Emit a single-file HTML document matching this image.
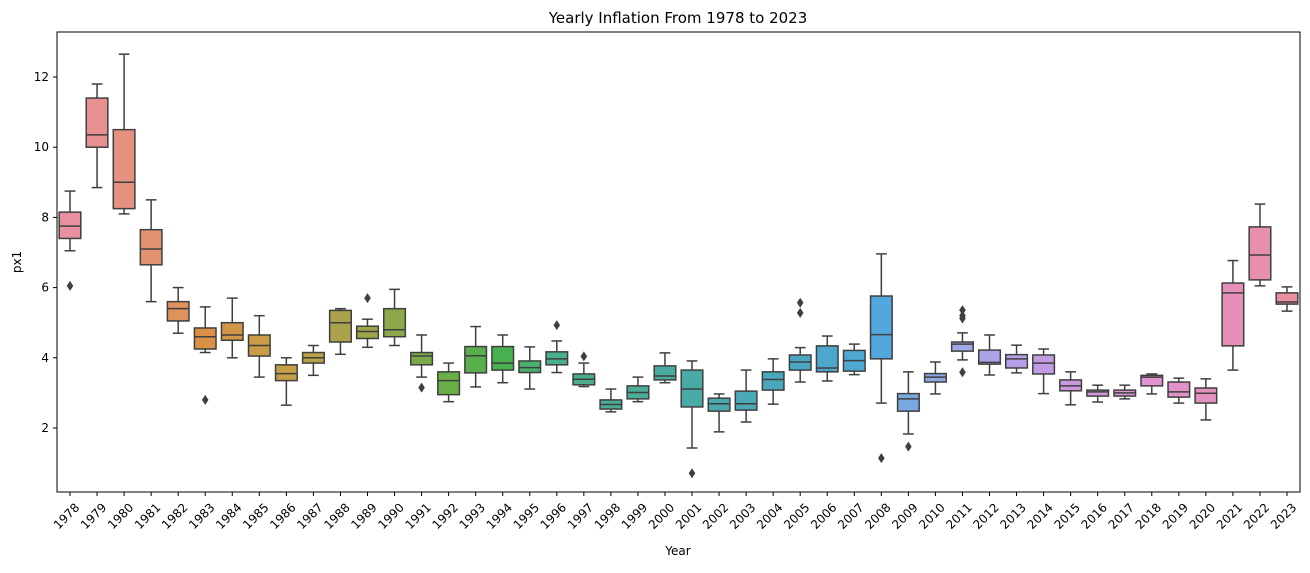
<!DOCTYPE html>
<html><head><meta charset="utf-8"><style>
body{margin:0;background:#fff;font-family:"Liberation Sans","DejaVu Sans",sans-serif}
svg text{font-family:"DejaVu Sans","Liberation Sans",sans-serif;fill:#000}
</style></head><body>
<svg id="chart" width="1310" height="568" viewBox="0 0 1310 568" xmlns="http://www.w3.org/2000/svg">
<rect width="1310" height="568" fill="#fff"/>
<text x="678" y="23" font-size="15" text-anchor="middle">Yearly Inflation From 1978 to 2023</text>
<g id="marks"></g>
<rect x="57" y="32" width="1243" height="460" fill="none" stroke="#000" stroke-width="1"/>
<g id="axes"></g>
<text x="678" y="555" font-size="12" text-anchor="middle">Year</text>
<text transform="translate(21,262) rotate(-90)" font-size="12" text-anchor="middle">px1</text>
</svg>
<script>
const years=[];for(let y=1978;y<=2023;y++)years.push(y);
const whiskerLow=[7.05,8.85,8.1,5.6,4.7,4.15,4.0,3.45,2.65,3.5,4.1,4.3,4.35,3.45,2.75,3.17,3.29,3.11,3.58,3.18,2.46,2.75,3.29,1.43,1.89,2.17,2.68,3.31,3.34,3.52,2.71,1.83,2.97,3.94,3.51,3.57,2.98,2.66,2.74,2.83,2.97,2.71,2.23,3.65,6.05,5.33];
const q1=[7.4,10.0,8.25,6.65,5.05,4.25,4.5,4.05,3.35,3.85,4.45,4.55,4.6,3.8,2.95,3.57,3.65,3.58,3.8,3.23,2.54,2.83,3.37,2.6,2.48,2.51,3.08,3.65,3.6,3.62,3.97,2.48,3.31,4.19,3.82,3.71,3.54,3.06,2.91,2.91,3.2,2.88,2.71,4.34,6.22,5.53];
const medians=[7.75,10.35,9.0,7.1,5.4,4.6,4.65,4.35,3.55,4.0,5.0,4.75,4.8,4.05,3.35,4.06,3.85,3.72,3.97,3.39,2.67,3.01,3.48,3.11,2.69,2.69,3.38,3.88,3.71,3.92,4.66,2.83,3.45,4.39,3.87,3.97,3.85,3.2,3.03,3.0,3.45,3.03,2.99,5.85,6.93,5.59];
const q3=[8.15,11.4,10.5,7.65,5.6,4.85,5.0,4.65,3.8,4.15,5.35,4.9,5.4,4.15,3.6,4.32,4.32,3.91,4.17,3.54,2.8,3.2,3.77,3.65,2.85,3.05,3.6,4.08,4.34,4.21,5.76,2.98,3.55,4.45,4.22,4.09,4.08,3.37,3.08,3.08,3.5,3.31,3.14,6.13,7.73,5.85];
const whiskerHigh=[8.75,11.8,12.65,8.5,6.0,5.45,5.7,5.2,4.0,4.35,5.4,5.1,5.95,4.65,3.85,4.89,4.65,4.31,4.48,3.85,3.11,3.45,4.14,3.91,2.97,3.65,3.97,4.29,4.62,4.39,6.96,3.6,3.88,4.71,4.65,4.36,4.25,3.6,3.22,3.22,3.54,3.42,3.4,6.77,8.38,6.02];
const outliers=[[6.05],[],[],[],[],[2.8],[],[],[],[],[],[5.7],[],[3.15],[],[],[],[],[4.93],[4.04],[],[],[],[0.71],[],[],[],[5.57,5.28],[],[],[1.14],[1.47],[],[5.36,5.2,5.12,3.59],[],[],[],[],[],[],[],[],[],[],[],[]];
const yTicks=[2,4,6,8,10,12];

const X0=70,DX=(1287-70)/45;
function xs(i){return X0+i*DX;}
function ys(v){return 428-(v-2)*35.1;}
const keys=[[0,[232,144,159]],[3,[227,146,111]],[5,[218,145,70]],[8,[197,160,71]],[11,[158,165,74]],[14,[106,174,71]],[16,[71,176,79]],[18,[74,175,138]],[22,[74,171,158]],[27,[74,167,196]],[30,[82,168,220]],[31,[122,168,224]],[33,[160,168,232]],[35,[184,160,232]],[37,[204,152,224]],[40,[224,148,208]],[43,[230,143,184]],[45,[232,144,159]]];
function col(i){for(let k=0;k<keys.length-1;k++){const[a,ca]=keys[k],[b,cb]=keys[k+1];if(i>=a&&i<=b){const t=(i-a)/(b-a||1);return 'rgb('+ca.map((c,j)=>Math.round(c+(cb[j]-c)*t)).join(',')+')';}}return 'rgb(232,144,159)';}
const NS='http://www.w3.org/2000/svg';
function mk(tag,attrs,parent){const e=document.createElementNS(NS,tag);for(const k in attrs)e.setAttribute(k,attrs[k]);parent.appendChild(e);return e;}
const marks=document.getElementById('marks'),axes=document.getElementById('axes');
const LC='#3f3f3f',BW=21.6;
years.forEach((yr,i)=>{
  const g=mk('g',{},marks);
  
  
  const cx=xs(i);
  const w1=mk('line',{x1:cx,x2:cx,y1:ys(q1[i]),y2:ys(whiskerLow[i]),stroke:LC,'stroke-width':1.5},g);
  
  
  const w2=mk('line',{x1:cx,x2:cx,y1:ys(q3[i]),y2:ys(whiskerHigh[i]),stroke:LC,'stroke-width':1.5},g);
  
  
  [whiskerLow[i],whiskerHigh[i]].forEach(v=>{
    const c=mk('line',{x1:cx-BW/4,x2:cx+BW/4,y1:ys(v),y2:ys(v),stroke:LC,'stroke-width':1.5},g);
    
    
  });
  const r=mk('rect',{x:cx-BW/2,y:ys(q3[i]),width:BW,height:Math.max(0.5,ys(q1[i])-ys(q3[i])),fill:col(i),stroke:LC,'stroke-width':1.5},g);
  
  
  const m=mk('line',{x1:cx-BW/2,x2:cx+BW/2,y1:ys(medians[i]),y2:ys(medians[i]),stroke:LC,'stroke-width':1.5},g);
  
  
  outliers[i].forEach(v=>{
    const y=ys(v);
    const p=mk('polygon',{points:`${cx},${y-5} ${cx+3.3},${y} ${cx},${y+5} ${cx-3.3},${y}`,fill:LC},g);
    
    
  });
  const t=mk('line',{x1:cx,x2:cx,y1:492,y2:496,stroke:'#000','stroke-width':1},axes);
  
  
  const lb=mk('text',{transform:`translate(${cx+4},${502}) rotate(-45)`,'font-size':12,'text-anchor':'end','dominant-baseline':'hanging'},axes);
  lb.textContent=yr;
  
  
});
yTicks.forEach(v=>{
  const y=ys(v);
  const t=mk('line',{x1:53,x2:57,y1:y,y2:y,stroke:'#000','stroke-width':1},axes);
  
  
  const lb=mk('text',{x:49,y:y+4,'font-size':12,'text-anchor':'end'},axes);
  lb.textContent=v;
  
  
});
</script>
</body></html>
